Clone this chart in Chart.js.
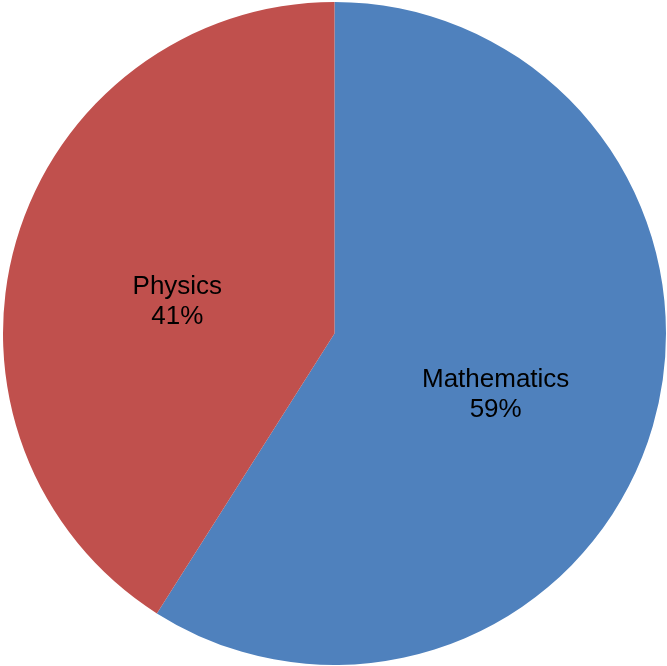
<!DOCTYPE html>
<html>
<head>
<meta charset="utf-8">
<script src="https://cdn.jsdelivr.net/npm/chart.js@4"></script>
<style>
  html, body { margin: 0; padding: 0; background: #fff; }
  #wrap { width: 667px; height: 666px; }
</style>
</head>
<body>
<div id="wrap"><canvas id="chartPie" width="667" height="666"></canvas></div>
<script>
const subjects = ["Mathematics", "Physics"];
const shares = [59, 41];
const sliceColors = ["#4F81BD", "#C0504D"];

// draws "name" and "xx%" inside each slice
const sliceLabels = {
    id: 'sliceLabels',
    afterDatasetsDraw(chart) {
        const ctx = chart.ctx;
        const meta = chart.getDatasetMeta(0);
        const total = shares.reduce((a, b) => a + b, 0);
        ctx.save();
        ctx.fillStyle = '#000';
        ctx.font = '26px "Liberation Sans", Arial, sans-serif';
        ctx.textAlign = 'center';
        ctx.textBaseline = 'middle';
        meta.data.forEach((arc, i) => {
            const mid = (arc.startAngle + arc.endAngle) / 2;
            const r = arc.outerRadius * 0.5;
            const x = arc.x + Math.cos(mid) * r + 2;
            const y = arc.y + Math.sin(mid) * r + 15;
            const pct = Math.round(shares[i] / total * 100) + '%';
            ctx.fillText(subjects[i], x, y - 15);
            ctx.fillText(pct, x, y + 15);
        });
        ctx.restore();
    }
};

const dataPie = {
    labels: subjects,
    datasets: [{
        data: shares,
        backgroundColor: sliceColors,
        borderWidth: 0,
    }],
};

const configPie = {
    type: 'pie',
    data: dataPie,
    options: {
        responsive: false,
        animation: false,
        layout: { padding: { top: 2, bottom: 1, left: 2, right: 0 } },
        plugins: {
            legend: { display: false },
            tooltip: { enabled: false },
        },
    },
    plugins: [sliceLabels],
};

var chartPie = new Chart(document.getElementById('chartPie'), configPie);
</script>
</body>
</html>
